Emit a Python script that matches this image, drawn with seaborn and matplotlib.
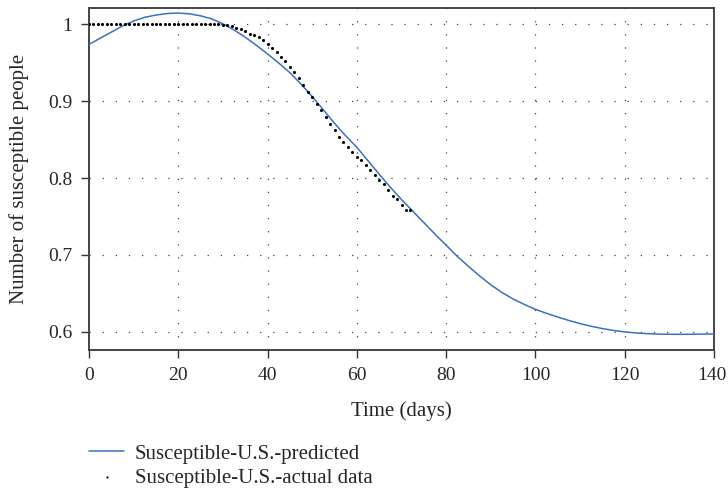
import matplotlib
matplotlib.use("Agg")
import matplotlib.pyplot as plt
import matplotlib.transforms as mtransforms
import seaborn as sns
import pandas as pd

# ---- data ----
pred_days = [0, 2.5, 5, 7.5, 10, 12.5, 15, 17.5, 20, 22.5, 25, 27.5, 30, 32.5,
             35, 37.5, 40, 42.5, 45, 47.5, 50, 52.5, 55, 57.5, 60, 62.5, 65,
             67.5, 70, 72.5, 75, 77.5, 80, 82.5, 85, 87.5, 90, 92.5, 95, 97.5,
             100, 102.5, 105, 107.5, 110, 112.5, 115, 117.5, 120, 122.5, 125,
             127.5, 130, 132.5, 135, 137.5, 140]
pred_vals = [0.974, 0.982, 0.990, 0.998, 1.0045, 1.0093, 1.0122, 1.0142, 1.0148,
             1.0138, 1.0112, 1.0072, 1.0008, 0.9928, 0.9833, 0.9728, 0.9615,
             0.9498, 0.9372, 0.9222, 0.906, 0.8888, 0.8712, 0.855, 0.840, 0.8225,
             0.805, 0.788, 0.772, 0.757, 0.742, 0.727, 0.7125, 0.698, 0.685,
             0.6725, 0.661, 0.651, 0.6425, 0.6355, 0.629, 0.6238, 0.6190, 0.6145,
             0.6105, 0.6070, 0.6040, 0.6015, 0.5997, 0.5983, 0.5974, 0.5968,
             0.5966, 0.5965, 0.5966, 0.5968, 0.5970]

actual_days = list(range(0, 73))
actual_vals = [1.0, 1.0, 1.0, 1.0, 1.0, 1.0, 1.0, 1.0, 1.0, 1.0,
               1.0, 1.0, 1.0, 1.0, 1.0, 1.0, 1.0, 1.0, 1.0, 1.0,
               1.0, 1.0, 1.0, 1.0, 1.0, 1.0, 1.0, 1.0, 1.0, 1.0,
               0.9995, 0.999, 0.998, 0.996, 0.994, 0.991, 0.988, 0.986, 0.983, 0.980,
               0.974, 0.969, 0.964, 0.958, 0.952, 0.945, 0.938, 0.930, 0.921, 0.912,
               0.905, 0.896, 0.888, 0.879, 0.871, 0.862, 0.854, 0.847, 0.840, 0.834,
               0.828, 0.823, 0.817, 0.810, 0.804, 0.798, 0.792, 0.785, 0.777, 0.773,
               0.765, 0.758, 0.758]

x_ticks = [0, 20, 40, 60, 80, 100, 120, 140]
y_ticks = [0.6, 0.7, 0.8, 0.9, 1.0]
y_tick_labels = ["0.6", "0.7", "0.8", "0.9", "1"]

pred_label = "Susceptible-U.S.-predicted"
actual_label = "Susceptible-U.S.-actual data"

# ---- style ----
sns.set_style("ticks")
plt.rcParams["font.family"] = ["Liberation Serif", "DejaVu Serif"]
plt.rcParams["font.size"] = 15

fig = plt.figure(figsize=(7.28, 4.91), dpi=100)
ax = fig.add_axes([89 / 728, 1 - 350 / 491, (714 - 89) / 728, (350 - 8) / 491])

pred_df = pd.DataFrame({"day": pred_days, "value": pred_vals})
act_df = pd.DataFrame({"day": actual_days, "value": actual_vals})

grid_kw = dict(color="#444444", linewidth=0.9, linestyle=(0, (1, 9.5)), zorder=0)
for gx in x_ticks[1:-1]:
    ax.axvline(gx, **grid_kw)
for gy in y_ticks:
    ax.axhline(gy, **grid_kw)

sns.lineplot(data=pred_df, x="day", y="value", ax=ax, color="#3a70c0",
             linewidth=1.1, label=pred_label, zorder=3)
sns.scatterplot(data=act_df, x="day", y="value", ax=ax, color="black",
                s=5, marker="o", linewidth=0, label=actual_label, zorder=4)

ax.set_xlim(0, 140)
ax.set_ylim(0.5761, 1.0214)
ax.set_xticks(x_ticks)
ax.set_yticks(y_ticks)
ax.set_yticklabels(y_tick_labels)
ax.tick_params(direction="out", length=5.5, width=1, color="#333333",
               labelsize=14, pad=6.5)
for s in ax.spines.values():
    s.set_color("#444444")
    s.set_linewidth(1.4)
    s.set_visible(True)

ax.set_xlabel("Time (days)", fontsize=15)
ax.set_ylabel("Number of susceptible people", fontsize=15)
ax.xaxis.set_label_coords(0.5, (350 - 401) / 342)
ax.yaxis.set_label_coords((29 - 89) / 625, 0.5)

ax.legend_.remove()
h, l = ax.get_legend_handles_labels()
fig.legend(h, l, loc="upper left", bbox_to_anchor=(89 / 728, 1 - 444 / 491),
           frameon=False, fontsize=15, handlelength=1.7, handletextpad=0.5,
           labelspacing=0.22, markerscale=0.7, borderaxespad=0, borderpad=0)

# keep the last x tick label ("140") inside the canvas
fig.canvas.draw()
last_tick = ax.xaxis.get_major_ticks()[-1]
last_tick.label1.set_transform(
    last_tick.label1.get_transform()
    + mtransforms.ScaledTranslation(-2.5 / 100, 0, fig.dpi_scale_trans))

fig.savefig("out.png", dpi=100)
